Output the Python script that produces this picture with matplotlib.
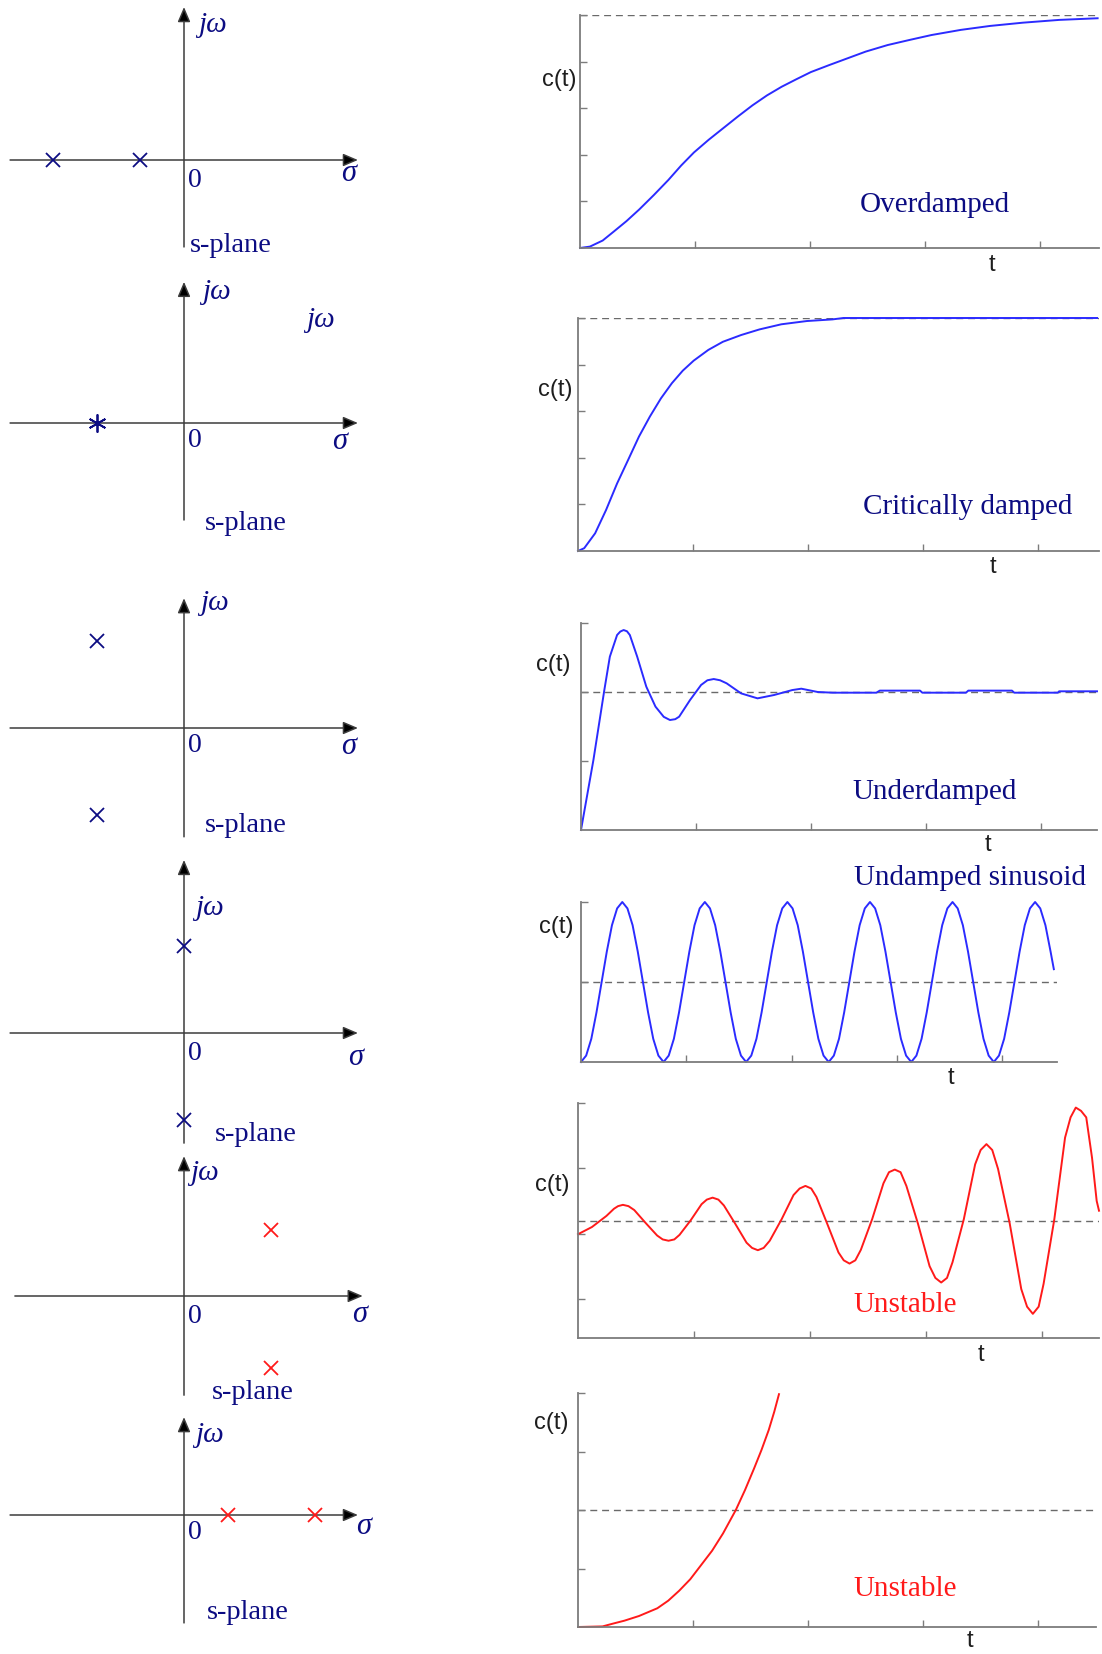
import numpy as np
import matplotlib
matplotlib.use("Agg")
import matplotlib.pyplot as plt

W, H = 1102, 1654
NAVY = "#0c0c82"
BLUE = "#2b2bff"
RED = "#ff1a1a"
SPINE = "#7c7c7c"
AXC = "#3c3c3c"

# ---- pole locations (sigma, omega) for each row ----
poles_over = [(-3, 0), (-1, 0)]
poles_crit = [(-2, 0)]
poles_under = [(-2, 2), (-2, -2)]
poles_undamped = [(0, 2), (0, -2)]
poles_unst_osc = [(2, 1.5), (2, -1.65)]
poles_unst_real = [(1, 0), (3, 0)]

# ---- step responses ----
t_over = [0, 0.086, 0.197, 0.292, 0.403, 0.514, 0.641, 0.768, 0.879, 0.99, 1.117, 1.244,
          1.371, 1.498, 1.625, 1.752, 1.879, 2.006, 2.165, 2.324, 2.483, 2.673, 2.864,
          3.054, 3.308, 3.562, 3.848, 4.165, 4.498]
c_over = [0, 0.006, 0.032, 0.07, 0.115, 0.165, 0.227, 0.292, 0.354, 0.41, 0.464, 0.514,
          0.564, 0.612, 0.655, 0.692, 0.724, 0.755, 0.785, 0.814, 0.843, 0.871, 0.893,
          0.914, 0.936, 0.953, 0.967, 0.979, 0.986]

t_crit = [0, 0.054, 0.149, 0.244, 0.340, 0.435, 0.530, 0.625, 0.721, 0.816, 0.911, 1.006,
          1.133, 1.26, 1.419, 1.578, 1.768, 1.99, 2.213, 2.308, 4.514]
c_crit = [0, 0.012, 0.076, 0.176, 0.29, 0.39, 0.491, 0.577, 0.655, 0.72, 0.774, 0.817,
          0.863, 0.898, 0.927, 0.951, 0.973, 0.987, 0.994, 1.0, 1.0]

t_under = [0, 0.108, 0.203, 0.251, 0.314, 0.342, 0.371, 0.40, 0.425, 0.489, 0.568, 0.648,
           0.72, 0.774, 0.82, 0.854, 0.949, 1.045, 1.10, 1.155, 1.21, 1.267, 1.393, 1.536,
           1.679, 1.838, 1.917, 2.06, 2.19, 2.57, 2.60, 2.95, 2.97, 3.35, 3.37, 3.75, 3.77,
           4.15, 4.16, 4.49]
c_under = [0, 0.507, 1.014, 1.256, 1.413, 1.438, 1.449, 1.44, 1.413, 1.256, 1.039, 0.894,
           0.82, 0.797, 0.803, 0.821, 0.942, 1.051, 1.085, 1.094, 1.085, 1.063, 0.990, 0.954,
           0.978, 1.014, 1.024, 1.0, 0.995, 0.995, 1.01, 1.01, 0.995, 0.995, 1.01, 1.01, 0.995,
           0.995, 1.005, 1.005]

t_sin = [0, .049, .098, .147, .196, .245, .294, .343, .392, .441, .49, .539, .588, .637, .686, .735,
         .784, .833, .882, .931, .98, 1.029, 1.078, 1.127, 1.176, 1.225, 1.274, 1.323, 1.372, 1.421, 1.47, 1.519,
         1.568, 1.617, 1.666, 1.715, 1.764, 1.813, 1.862, 1.911, 1.96, 2.009, 2.058, 2.107, 2.156, 2.205, 2.254, 2.303,
         2.352, 2.401, 2.45, 2.499, 2.548, 2.597, 2.646, 2.695, 2.744, 2.793, 2.842, 2.891, 2.94, 2.989, 3.038, 3.087,
         3.136, 3.185, 3.234, 3.283, 3.332, 3.381, 3.43, 3.479, 3.528, 3.577, 3.626, 3.675, 3.724, 3.773, 3.822, 3.871,
         3.92, 3.969, 4.018, 4.067, 4.116, 4.165, 4.214, 4.263, 4.312, 4.361, 4.41, 4.459, 4.49]
c_sin = [0, .08, .29, .62, 1, 1.38, 1.71, 1.92, 2, 1.92, 1.71, 1.38, 1, .62, .29, .08,
         0, .08, .29, .62, 1, 1.38, 1.71, 1.92, 2, 1.92, 1.71, 1.38, 1, .62, .29, .08,
         0, .08, .29, .62, 1, 1.38, 1.71, 1.92, 2, 1.92, 1.71, 1.38, 1, .62, .29, .08,
         0, .08, .29, .62, 1, 1.38, 1.71, 1.92, 2, 1.92, 1.71, 1.38, 1, .62, .29, .08,
         0, .08, .29, .62, 1, 1.38, 1.71, 1.92, 2, 1.92, 1.71, 1.38, 1, .62, .29, .08,
         0, .08, .29, .62, 1, 1.38, 1.71, 1.92, 2, 1.92, 1.71, 1.38, 1.16]

t_osc = [0, 0.12, 0.245, 0.31, 0.345, 0.387, 0.435, 0.485, 0.584, 0.682, 0.73, 0.78, 0.83,
         0.875, 0.97, 1.065, 1.11, 1.16, 1.21, 1.2575, 1.355, 1.4525, 1.50, 1.55, 1.60,
         1.6525, 1.755, 1.8575, 1.91, 1.96, 2.01, 2.055, 2.15, 2.245, 2.29, 2.34, 2.39,
         2.4375, 2.535, 2.6325, 2.68, 2.73, 2.78, 2.83, 2.93, 3.03, 3.08, 3.13, 3.18,
         3.2275, 3.325, 3.4225, 3.47, 3.52, 3.57, 3.62, 3.72, 3.82, 3.87, 3.92, 3.97,
         4.0125, 4.105, 4.1975, 4.245, 4.29, 4.335, 4.38, 4.43, 4.47, 4.49]
c_osc = [0.99, 1.10, 1.27, 1.38, 1.42, 1.44, 1.42, 1.36, 1.16, 0.97, 0.91, 0.89, 0.91,
         0.98, 1.20, 1.45, 1.52, 1.55, 1.52, 1.43, 1.15, 0.86, 0.78, 0.745, 0.78,
         0.89, 1.22, 1.59, 1.69, 1.73, 1.69, 1.56, 1.14, 0.71, 0.59, 0.54, 0.59,
         0.75, 1.22, 1.77, 1.94, 1.98, 1.94, 1.73, 1.15, 0.50, 0.32, 0.25, 0.32,
         0.56, 1.22, 2.06, 2.28, 2.37, 2.28, 1.99, 1.16, 0.15, -0.12, -0.23, -0.12,
         0.23, 1.22, 2.47, 2.78, 2.93, 2.88, 2.78, 2.16, 1.50, 1.35]

t_exp = [0, 0.213, 0.308, 0.403, 0.530, 0.689, 0.784, 0.879, 0.975, 1.07, 1.165, 1.26,
         1.371, 1.451, 1.53, 1.594, 1.657, 1.705, 1.746]
c_exp = [0, 0.005, 0.03, 0.054, 0.094, 0.16, 0.225, 0.31, 0.408, 0.53, 0.652, 0.80,
         1.0, 1.171, 1.356, 1.513, 1.684, 1.84, 1.99]

fig = plt.figure(figsize=(W / 100, H / 100), dpi=100)
fig.patch.set_facecolor("white")

SERIF = ["Liberation Serif", "DejaVu Serif"]
SANS = ["Liberation Sans", "DejaVu Sans"]

# ---------------- left column: s-plane sketches ----------------
UNIT = 43.7      # pixels per s-plane unit
OX = 184         # pixel column of the jw axis


def splane(oy, hext, vext):
    half = 200
    ax = fig.add_axes([0, 1 - (oy + half) / H, 420 / W, 2 * half / H])
    ax.set_xlim(-OX / UNIT, (420 - OX) / UNIT)
    ax.set_ylim(-half / UNIT, half / UNIT)
    ax.axis("off")
    ax.patch.set_alpha(0)
    arr = dict(arrowstyle="-|>,head_length=0.75,head_width=0.32", color=AXC, fc="black",
               lw=1.1, shrinkA=0, shrinkB=0, mutation_scale=12)
    ax.annotate("", xy=(hext[1], 0), xytext=(hext[0], 0), arrowprops=arr)
    ax.annotate("", xy=(0, vext[1]), xytext=(0, vext[0]), arrowprops=arr)
    return ax


rows = [
    dict(oy=160, h=(-3.98, 3.98), v=(-1.99, 3.50), poles=poles_over, mk="x", col=NAVY,
         jw=(0.32, 3.09), zero=-0.46, sig=(3.6, -0.30), sp=(0.14, -1.95)),
    dict(oy=423, h=(-3.98, 3.98), v=(-2.22, 3.23), poles=poles_crit, mk=(6, 2, 0), col=NAVY,
         jw=(0.41, 3.0), zero=-0.39, sig=(3.39, -0.43), sp=(0.48, -2.29)),
    dict(oy=728, h=(-3.98, 3.98), v=(-2.49, 2.97), poles=poles_under, mk="x", col=NAVY,
         jw=(0.37, 2.86), zero=-0.39, sig=(3.6, -0.43), sp=(0.48, -2.22)),
    dict(oy=1033, h=(-3.98, 3.98), v=(-2.52, 3.96), poles=poles_undamped, mk="x", col=NAVY,
         jw=(0.25, 2.86), zero=-0.46, sig=(3.75, -0.55), sp=(0.71, -2.33)),
    dict(oy=1296, h=(-3.87, 4.09), v=(-2.27, 3.20), poles=poles_unst_osc, mk="x", col=RED,
         jw=(0.14, 2.81), zero=-0.48, sig=(3.84, -0.43), sp=(0.64, -2.2)),
    dict(oy=1515, h=(-3.98, 3.98), v=(-2.47, 2.24), poles=poles_unst_real, mk="x", col=RED,
         jw=(0.25, 1.83), zero=-0.39, sig=(3.94, -0.27), sp=(0.53, -2.22)),
]

for i, r in enumerate(rows):
    ax = splane(r["oy"], r["h"], r["v"])
    sx = [p[0] for p in r["poles"]]
    sy = [p[1] for p in r["poles"]]
    ms = 13 if i == 1 else 9.5
    ax.plot(sx, sy, ls="none", marker=r["mk"], ms=ms, mew=1.3, color=r["col"], zorder=5)
    ax.text(*r["jw"], "jω", family=SERIF, style="italic", fontsize=21, color=NAVY,
            ha="left", va="center")
    ax.text(0.1, r["zero"], "0", family=SERIF, fontsize=20, color=NAVY, ha="left", va="center")
    ax.text(*r["sig"], "σ", family=SERIF, style="italic", fontsize=22, color=NAVY,
            ha="left", va="center")
    ax.text(*r["sp"], "s-plane", family=SERIF, fontsize=20.5, color=NAVY, ha="left", va="center")
    if i == 1:
        ax.text(2.79, 2.36, "jω", family=SERIF, style="italic", fontsize=21, color=NAVY,
                ha="left", va="center")

# ---------------- right column: time responses ----------------


def resp(x0, y0, x1, y1, xmax, ylim, yticks):
    ax = fig.add_axes([x0 / W, 1 - y1 / H, (x1 - x0) / W, (y1 - y0) / H])
    ax.patch.set_alpha(0)
    ax.set_xlim(0, xmax)
    ax.set_ylim(*ylim)
    for s in ("top", "right"):
        ax.spines[s].set_visible(False)
    for s in ("left", "bottom"):
        ax.spines[s].set_color(SPINE)
        ax.spines[s].set_linewidth(1.3)
    ax.set_xticks([1, 2, 3, 4])
    ax.set_yticks(yticks)
    ax.tick_params(direction="in", length=5, width=1, color=SPINE,
                   labelbottom=False, labelleft=False)
    return ax


def labels(ax, cpos, tpos, name, npos, col=NAVY):
    ax.text(*cpos, "c(t)", transform=ax.transAxes, family=SANS, fontsize=17, color="#1e1e1e",
            ha="center", va="center")
    ax.text(*tpos, "t", transform=ax.transAxes, family=SANS, fontsize=17, color="#1e1e1e",
            ha="center", va="center")
    ax.text(*npos, name, transform=ax.transAxes, family=SERIF, fontsize=21, color=col,
            ha="center", va="center")


def dashed(ax, y):
    ax.axhline(y, color="#6a6a6a", lw=1.0, dashes=(5, 3.5), zorder=1)


LW = 1.4

ax = resp(580, 15, 1099, 248, 4.51, (0, 1), [0.2, 0.4, 0.6, 0.8, 1.0])
dashed(ax, 1.0)
ax.plot(t_over, c_over, color=BLUE, lw=LW, clip_on=False)
labels(ax, (-0.040, 0.721), (0.793, -0.073), "Overdamped", (0.684, 0.185))

ax = resp(578, 318, 1099, 551, 4.53, (0, 1), [0.2, 0.4, 0.6, 0.8, 1.0])
dashed(ax, 1.0)
ax.plot(t_crit, c_crit, color=BLUE, lw=LW, clip_on=False)
labels(ax, (-0.044, 0.691), (0.796, -0.069), "Critically damped", (0.748, 0.189))

ax = resp(581, 623, 1097, 830, 4.49, (0, 1.5), [0.5, 1.0, 1.5])
dashed(ax, 1.0)
ax.plot(t_under, c_under, color=BLUE, lw=LW, clip_on=False)
labels(ax, (-0.053, 0.797), (0.788, -0.072), "Underdamped", (0.686, 0.184))

ax = resp(581, 902, 1057, 1062, 4.52, (0, 2), [1, 2])
dashed(ax, 1.0)
ax.plot(t_sin, c_sin, color=BLUE, lw=LW, clip_on=False)
labels(ax, (-0.051, 0.844), (0.777, -0.10), "Undamped sinusoid", (0.818, 1.15))

ax = resp(578, 1103, 1099, 1338, 4.49, (-0.6, 3.0), [0, 1, 2, 3])
dashed(ax, 1.2)
ax.plot(t_osc, c_osc, color=RED, lw=LW, clip_on=False)
labels(ax, (-0.050, 0.651), (0.773, -0.072), "Unstable", (0.628, 0.140), col=RED)

ax = resp(578, 1393, 1096, 1627, 4.50, (0, 2), [0.5, 1.0, 1.5, 2.0])
dashed(ax, 1.0)
ax.plot(t_exp, c_exp, color=RED, lw=LW, clip_on=False)
labels(ax, (-0.051, 0.872), (0.757, -0.058), "Unstable", (0.632, 0.162), col=RED)

fig.savefig("out.png", dpi=100, facecolor="white")
